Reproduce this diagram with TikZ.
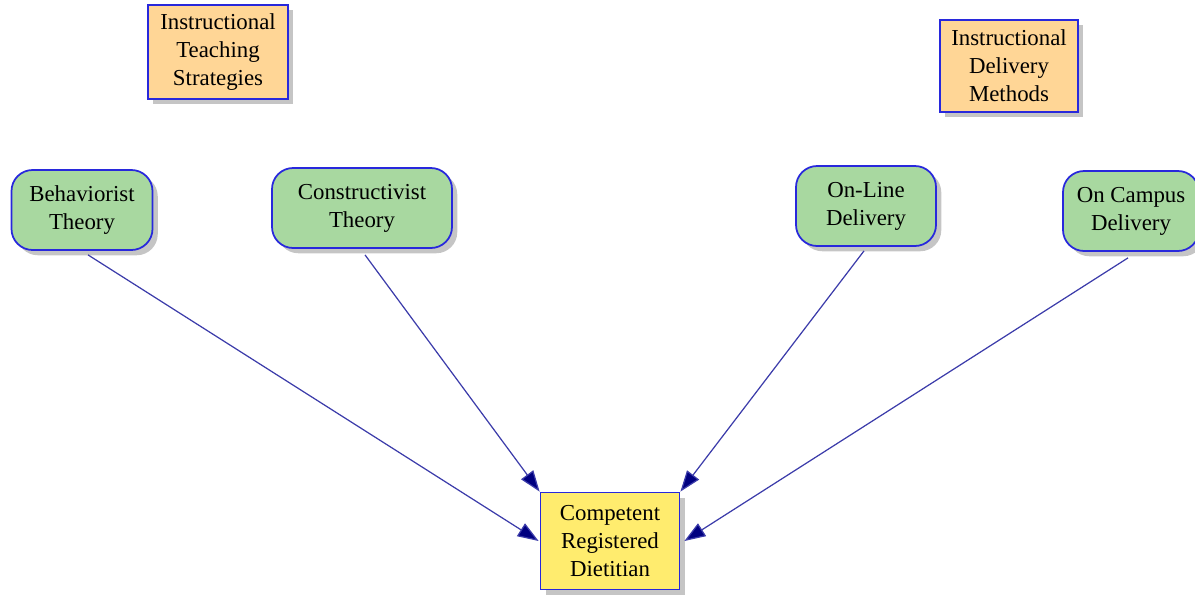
\documentclass[tikz,border=0pt]{standalone}
\usepackage{fontspec}
\setmainfont{Liberation Serif}
\usepackage{tikz}
\usetikzlibrary{arrows.meta,shadows}

\definecolor{boxorange}{RGB}{255,214,150}
\definecolor{boxgreen}{RGB}{168,216,160}
\definecolor{boxyellow}{RGB}{255,236,110}
\definecolor{edgeblue}{RGB}{40,40,220}
\definecolor{linkblue}{RGB}{60,60,170}
\definecolor{tipnavy}{RGB}{0,0,128}

\begin{document}
\begin{tikzpicture}[x=0.02cm,y=-0.02cm,
		every node/.style={font=\fontsize{13}{16}\selectfont, align=center, draw=edgeblue, line width=1pt,
			drop shadow={shadow xshift=3pt, shadow yshift=-3pt, fill=black!45}},
		heading/.style={fill=boxorange, minimum width=140*0.02cm, minimum height=94*0.02cm, inner sep=2pt},
		theory/.style={fill=boxgreen, rounded corners=12pt, minimum height=80*0.02cm, inner sep=4pt},
		goal/.style={fill=boxyellow, minimum width=139*0.02cm, minimum height=97*0.02cm, inner sep=2pt},
		link/.style={draw=linkblue, line width=0.7pt, -{Triangle[length=0.42cm, width=0.3cm, fill=tipnavy]}}]
			\useasboundingbox (0,0) rectangle (1195,595);

			% headings
			\node[heading] (its) at (218,52) {Instructional\\Teaching\\Strategies};
			\node[heading, minimum width=138*0.02cm, minimum height=92*0.02cm] (idm) at (1009,66) {Instructional\\Delivery\\Methods};

			% theories and delivery
			\node[theory, minimum width=141*0.02cm] (behav) at (82,210) {Behaviorist\\Theory};
			\node[theory, minimum width=180*0.02cm] (constr) at (362,208) {Constructivist\\Theory};
			\node[theory, minimum width=140*0.02cm] (online) at (866,206) {On-Line\\Delivery};
			\node[theory, minimum width=136*0.02cm] (campus) at (1131,211) {On Campus\\Delivery};

			% outcome
			\node[goal] (rd) at (610,541) {Competent\\Registered\\Dietitian};

			\draw[link] ([shift={(6,4)}]behav.south) -- ([xshift=-1*0.02cm]rd.west);
			\draw[link] ([shift={(3,6)}]constr.south) -- (rd.north west);
			\draw[link] ([shift={(-2,4)}]online.south) -- (rd.north east);
			\draw[link] ([shift={(-3,6)}]campus.south) -- ([xshift=4*0.02cm]rd.east);
		\end{tikzpicture}
\end{document}
